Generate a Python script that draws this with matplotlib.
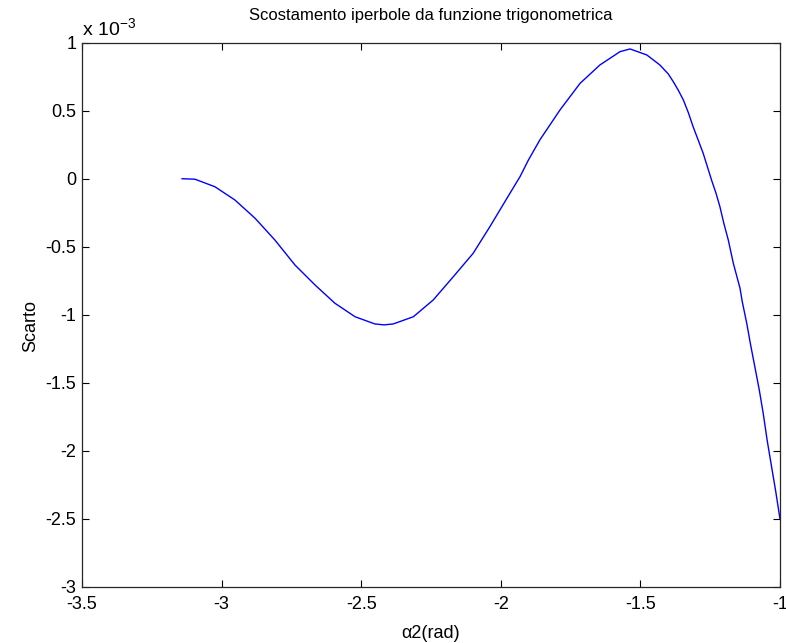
import numpy as np
import matplotlib
matplotlib.use("Agg")
import matplotlib.pyplot as plt

plt.rcParams['font.family'] = ['Liberation Sans', 'DejaVu Sans']
plt.rcParams['mathtext.fontset'] = 'custom'
plt.rcParams['mathtext.rm'] = 'Liberation Sans'

# alpha2 (rad) and scarto (units of 1e-3)
alpha2 = [-3.1416, -3.095, -3.024, -2.952, -2.880, -2.809, -2.737, -2.665,
          -2.594, -2.522, -2.451, -2.418, -2.385, -2.313, -2.242, -2.170,
          -2.099, -2.039, -2.003, -1.967, -1.931, -1.901, -1.860, -1.788,
          -1.716, -1.645, -1.573, -1.537, -1.477, -1.430, -1.400, -1.382,
          -1.364, -1.346, -1.328, -1.311, -1.293, -1.275, -1.245, -1.229,
          -1.215, -1.201, -1.185, -1.167, -1.143, -1.135, -1.119, -1.105,
          -1.090, -1.074, -1.060, -1.046, -1.030, -1.015, -1.000]
scarto_e3 = [0.0, -0.004, -0.059, -0.157, -0.291, -0.451, -0.635, -0.782,
             -0.916, -1.015, -1.068, -1.075, -1.068, -1.015, -0.892, -0.721,
             -0.549, -0.353, -0.230, -0.107, 0.015, 0.137, 0.285, 0.505,
             0.701, 0.836, 0.934, 0.954, 0.910, 0.836, 0.770, 0.713,
             0.650, 0.579, 0.485, 0.382, 0.285, 0.187, -0.010, -0.107,
             -0.206, -0.328, -0.451, -0.622, -0.806, -0.904, -1.063, -1.223,
             -1.382, -1.554, -1.725, -1.921, -2.118, -2.301, -2.500]

xticks = [-3.5, -3, -2.5, -2, -1.5, -1]
yticks = [1, 0.5, 0, -0.5, -1, -1.5, -2, -2.5, -3]

fig = plt.figure(figsize=(7.86, 6.43), dpi=100)
ax = fig.add_axes([0.1043, 0.0876, 0.888, 0.846])

ax.plot(np.array(alpha2), np.array(scarto_e3) * 1e-3, color='#0000ff', lw=1.0)

ax.set_xlim(-3.5, -1)
ax.set_ylim(-3e-3, 1e-3)
ax.set_xticks(xticks)
ax.set_xticklabels(['%g' % v for v in xticks])
ax.set_yticks([v * 1e-3 for v in yticks])
ax.set_yticklabels(['%g' % v for v in yticks])

ax.tick_params(direction='in', length=5, width=0.8, labelsize=13,
               top=True, right=True, colors='black')
ax.tick_params(axis='x', pad=7)
ax.tick_params(axis='y', pad=4)
for s in ax.spines.values():
    s.set_linewidth(0.9)
    s.set_color('#262626')

ax.set_title('Scostamento iperbole da funzione trigonometrica', fontsize=12, pad=16)
ax.set_xlabel('α2(rad)', fontsize=13, labelpad=8)
ax.set_ylabel('Scarto', fontsize=13)
ax.yaxis.set_label_coords(-0.062, 0.48)

ax.text(0.0, 1.005, r'x 10$^{\mathrm{-3}}$', transform=ax.transAxes,
        fontsize=14, ha='left', va='bottom')

fig.savefig('out.png', dpi=100)
